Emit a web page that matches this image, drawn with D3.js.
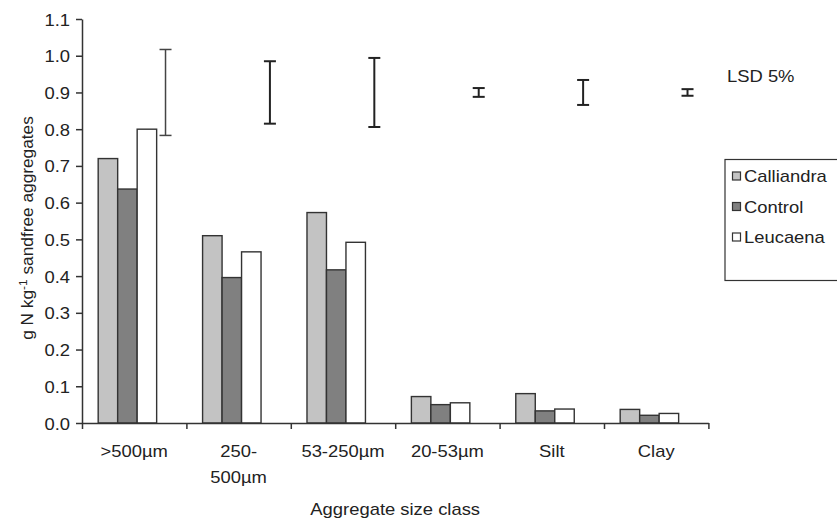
<!DOCTYPE html>
<html>
<head>
<meta charset="utf-8">
<script src="https://cdn.jsdelivr.net/npm/d3@7"></script>
<style>
  html, body { margin: 0; padding: 0; background: #fff; }
  svg text { font-family: "Liberation Sans", Arial, sans-serif; fill: #222; }
</style>
</head>
<body>
<svg id="chart" width="837" height="523"></svg>
<script>
// ---- data ----
const categories = [">500µm", "250-500µm", "53-250µm", "20-53µm", "Silt", "Clay"];
const categoryLines = [[">500µm"], ["250-", "500µm"], ["53-250µm"], ["20-53µm"], ["Silt"], ["Clay"]];
const seriesNames = ["Calliandra", "Control", "Leucaena"];
const calliandra = [0.720, 0.510, 0.573, 0.072, 0.080, 0.037];
const control    = [0.637, 0.396, 0.417, 0.050, 0.033, 0.021];
const leucaena   = [0.800, 0.466, 0.492, 0.055, 0.038, 0.026];
const lsdCenter = 0.9;
const lsdHalf = [0.117, 0.085, 0.094, 0.012, 0.034, 0.009];
const yTicks = [0, 0.1, 0.2, 0.3, 0.4, 0.5, 0.6, 0.7, 0.8, 0.9, 1.0, 1.1];
const yTitle = "g N kg";
const yTitleSup = "-1";
const yTitleRest = " sandfree aggregates";
const xTitle = "Aggregate size class";
const lsdLabel = "LSD 5%";

const seriesValues = [calliandra, control, leucaena];
const fills = ["#c3c3c3", "#808080", "#ffffff"];
const SX = 1.15; // horizontal text stretch

const svg = d3.select("#chart");
const pLeft = 82, pRight = 708.4, pTop = 19, pBottom = 423;

const x = d3.scaleBand().domain(categories).range([pLeft, pRight]).padding(0);
const bw = x.bandwidth();
const xs = d3.scaleBand().domain(seriesNames).range([0.155 * bw, 0.715 * bw]).padding(0);
const y = d3.scaleLinear().domain([0, 1.1]).range([pBottom, pTop]);
const xb = d3.scaleLinear().domain([0, categories.length]).range([pLeft, pRight]);

// bars
const table = [];
categories.forEach((c, i) => seriesNames.forEach((s, j) => table.push({c, s, j, v: seriesValues[j][i]})));
svg.append("g").selectAll("rect").data(table).join("rect")
  .attr("x", d => x(d.c) + xs(d.s))
  .attr("width", xs.bandwidth())
  .attr("y", d => y(d.v))
  .attr("height", d => y(0) - y(d.v))
  .attr("fill", d => fills[d.j])
  .attr("stroke", "#333")
  .attr("stroke-width", 1.4);

// LSD error bars
const eb = svg.append("g").attr("stroke", "#222").attr("stroke-width", 2);
categories.forEach((c, i) => {
  const cx = x(c) + 0.8 * bw;
  const y1 = y(lsdCenter + lsdHalf[i]), y2 = y(lsdCenter - lsdHalf[i]);
  const w = i === 0 ? 1.5 : 2;
  const col = i === 0 ? "#444" : "#222";
  eb.append("line").attr("x1", cx).attr("x2", cx).attr("y1", y1).attr("y2", y2).attr("stroke-width", w).attr("stroke", col);
  eb.append("line").attr("x1", cx - 6).attr("x2", cx + 6).attr("y1", y1).attr("y2", y1).attr("stroke-width", w).attr("stroke", col);
  eb.append("line").attr("x1", cx - 6).attr("x2", cx + 6).attr("y1", y2).attr("y2", y2).attr("stroke-width", w).attr("stroke", col);
});

// y axis
const ya = svg.append("g").attr("transform", `translate(${pLeft},0)`)
  .call(d3.axisLeft(y).tickValues(yTicks).tickFormat(d3.format(".1f")).tickSize(6).tickSizeOuter(0));
ya.select(".domain").attr("stroke", "#333").attr("stroke-width", 1.5);
ya.selectAll(".tick line").attr("stroke", "#333").attr("stroke-width", 1.5);
ya.selectAll(".tick text")
  .attr("x", null).attr("dy", null)
  .attr("transform", `translate(-12,6) scale(${SX},1)`)
  .attr("font-size", 16).attr("fill", "#222")
  .attr("font-family", "Liberation Sans, Arial, sans-serif");

// x axis
const xa = svg.append("g").attr("transform", `translate(0,${pBottom})`)
  .call(d3.axisBottom(xb).ticks(categories.length).tickFormat("").tickSize(6).tickSizeOuter(0));
xa.select(".domain").attr("stroke", "#333").attr("stroke-width", 1.5);
xa.selectAll(".tick line").attr("stroke", "#333").attr("stroke-width", 1.5);

// category labels
categories.forEach((c, i) => {
  const cx = x(c) + bw / 2;
  categoryLines[i].forEach((ln, k) => {
    svg.append("text")
      .attr("transform", `translate(${cx},${457 + k * 26}) scale(${SX},1)`)
      .attr("text-anchor", "middle").attr("font-size", 16).text(ln);
  });
});

// x title
svg.append("text")
  .attr("transform", `translate(${(pLeft + pRight) / 2},${515}) scale(${SX},1)`)
  .attr("text-anchor", "middle").attr("font-size", 16).text(xTitle);

// y title
const yt = svg.append("text")
  .attr("transform", `translate(33,228) rotate(-90) scale(1.08,1)`)
  .attr("text-anchor", "middle").attr("font-size", 16);
yt.append("tspan").text(yTitle);
yt.append("tspan").attr("dy", -6).attr("font-size", 11).text(yTitleSup);
yt.append("tspan").attr("dy", 6).text(yTitleRest);

// LSD label
svg.append("text")
  .attr("transform", `translate(727,82) scale(${SX},1)`)
  .attr("font-size", 16).text(lsdLabel);

// legend
const lg = svg.append("g");
lg.append("rect").attr("x", 725).attr("y", 159.5).attr("width", 130).attr("height", 121)
  .attr("fill", "none").attr("stroke", "#333").attr("stroke-width", 1.2);
seriesNames.forEach((s, j) => {
  const cy = 176 + j * 30.5;
  lg.append("rect").attr("x", 732.5).attr("y", cy - 4).attr("width", 8).attr("height", 8)
    .attr("fill", fills[j]).attr("stroke", "#333").attr("stroke-width", 1.2);
  lg.append("text")
    .attr("transform", `translate(744,${cy + 6}) scale(${SX},1)`)
    .attr("font-size", 16).text(s);
});
</script>
</body>
</html>
